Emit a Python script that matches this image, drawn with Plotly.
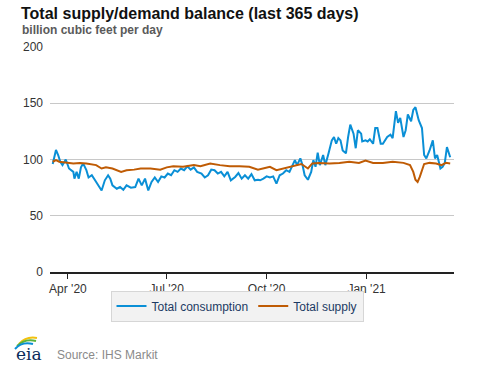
import plotly.graph_objects as go

# ---- data ----
cons_dates = [
    "2020-03-18", "2020-03-21", "2020-03-23", "2020-03-25", "2020-03-27", "2020-03-30",
    "2020-04-02", "2020-04-06", "2020-04-07", "2020-04-09", "2020-04-11", "2020-04-13",
    "2020-04-15", "2020-04-18", "2020-04-20", "2020-04-23", "2020-04-26", "2020-04-29",
    "2020-05-02", "2020-05-05", "2020-05-08", "2020-05-10", "2020-05-12", "2020-05-16",
    "2020-05-19", "2020-05-22", "2020-05-25", "2020-05-29", "2020-06-02", "2020-06-05",
    "2020-06-08", "2020-06-11", "2020-06-14", "2020-06-17", "2020-06-20", "2020-06-23",
    "2020-06-26", "2020-06-29", "2020-07-02", "2020-07-05", "2020-07-08", "2020-07-11",
    "2020-07-14", "2020-07-17", "2020-07-20", "2020-07-23", "2020-07-26", "2020-07-29",
    "2020-08-02", "2020-08-05", "2020-08-08", "2020-08-11", "2020-08-14", "2020-08-17",
    "2020-08-20", "2020-08-23", "2020-08-26", "2020-08-29", "2020-09-02", "2020-09-05",
    "2020-09-08", "2020-09-11", "2020-09-14", "2020-09-17", "2020-09-20", "2020-09-23",
    "2020-09-25", "2020-09-28", "2020-10-01", "2020-10-04", "2020-10-07", "2020-10-10",
    "2020-10-13", "2020-10-16", "2020-10-19", "2020-10-22", "2020-10-25", "2020-10-27",
    "2020-10-29", "2020-11-01", "2020-11-03", "2020-11-05", "2020-11-08", "2020-11-11",
    "2020-11-13", "2020-11-15", "2020-11-17", "2020-11-19", "2020-11-22", "2020-11-24",
    "2020-11-27", "2020-11-30", "2020-12-02", "2020-12-04", "2020-12-06", "2020-12-08",
    "2020-12-10", "2020-12-13", "2020-12-15", "2020-12-17", "2020-12-20", "2020-12-22",
    "2020-12-24", "2020-12-27", "2020-12-28", "2020-12-31", "2021-01-02", "2021-01-04",
    "2021-01-07", "2021-01-09", "2021-01-11", "2021-01-14", "2021-01-16", "2021-01-18",
    "2021-01-20", "2021-01-23", "2021-01-25", "2021-01-28", "2021-01-30", "2021-02-01",
    "2021-02-04", "2021-02-06", "2021-02-08", "2021-02-11", "2021-02-13", "2021-02-15",
    "2021-02-18", "2021-02-21", "2021-02-23", "2021-02-25", "2021-02-28", "2021-03-03",
    "2021-03-05", "2021-03-07", "2021-03-10", "2021-03-12", "2021-03-14", "2021-03-16",
    "2021-03-18", "2021-03-19",
]
cons_values = [
    96, 108.5, 104, 98, 95, 100,
    92, 89, 83, 89, 83, 93,
    96.5, 90.5, 84, 86, 81.5, 77,
    72.5, 81.5, 86, 83, 77, 74,
    75.5, 73, 77, 75, 75.5, 83,
    77, 83, 72.5, 80, 84, 80,
    85, 84, 87.5, 86, 90.5, 89,
    92, 90.5, 94, 91, 93, 89,
    87.5, 84, 86, 91, 90.5, 87.5,
    89, 85, 89, 81.5, 84.5, 88,
    83, 86, 83, 87, 81.5, 82,
    81.5, 83, 85, 84, 85, 78.5,
    86, 87.5, 90.5, 89, 95, 99.5,
    95, 101, 95, 86, 82, 89,
    99.5, 93.5, 106, 95, 104, 95,
    105.5, 117, 120, 114, 119, 117,
    108, 105.5, 120, 131, 123, 110,
    126, 123, 116, 117, 116, 118,
    114, 128, 128, 114, 114, 117,
    120, 122, 119, 143, 132.5, 137,
    120, 126, 140, 134, 144, 146.5,
    135, 128, 104, 101, 108, 117,
    101, 104, 92, 93.5, 97, 111,
    104, 102,
]

supply_dates = [
    "2020-03-18", "2020-03-21", "2020-03-24", "2020-03-30", "2020-04-06", "2020-04-12",
    "2020-04-18", "2020-04-27", "2020-05-02", "2020-05-06", "2020-05-12", "2020-05-20",
    "2020-05-25", "2020-06-01", "2020-06-07", "2020-06-16", "2020-06-25", "2020-07-01",
    "2020-07-07", "2020-07-16", "2020-07-26", "2020-08-01", "2020-08-10", "2020-08-19",
    "2020-08-28", "2020-09-06", "2020-09-15", "2020-09-23", "2020-09-28", "2020-10-04",
    "2020-10-10", "2020-10-16", "2020-10-22", "2020-10-28", "2020-11-02", "2020-11-08",
    "2020-11-12", "2020-11-18", "2020-11-28", "2020-12-07", "2020-12-16", "2020-12-25",
    "2020-12-31", "2021-01-07", "2021-01-16", "2021-01-25", "2021-02-04", "2021-02-10",
    "2021-02-13", "2021-02-15", "2021-02-17", "2021-02-19", "2021-02-21", "2021-02-23",
    "2021-02-28", "2021-03-06", "2021-03-11", "2021-03-15", "2021-03-19",
]
supply_values = [
    98, 99.5, 98, 97, 96.5, 97,
    96.5, 95, 92, 93, 92, 89,
    90.5, 91, 92, 92, 91, 93,
    94, 93.5, 95, 94, 96.5, 95,
    94, 94, 93.5, 91, 92, 93.5,
    90.5, 92, 93.5, 95, 96, 92,
    96.5, 97, 96.5, 97, 98, 97,
    99, 97, 97, 98, 97, 95,
    89, 82, 80, 84.5, 91, 96,
    97, 96.5, 95, 97, 96.5,
]

series_names = ["Total consumption", "Total supply"]
y_ticks = [0, 50, 100, 150, 200]

FONT = "Arial, Liberation Sans, sans-serif"

fig = go.Figure()
fig.add_trace(go.Scatter(x=cons_dates, y=cons_values, mode="lines",
                         name=series_names[0],
                         line=dict(color="#0a8fd6", width=2)))
fig.add_trace(go.Scatter(x=supply_dates, y=supply_values, mode="lines",
                         name=series_names[1],
                         line=dict(color="#bf5b04", width=2)))

# plot area: x 50..454, y 47..272 px
L, R, T, B = 50, 23, 47, 95
W, H = 477, 367
pw, ph = W - L - R, H - T - B

def px(x):
    return (x - L) / pw

def py(y):
    return (H - B - y) / ph

fig.update_layout(
    width=W, height=H,
    margin=dict(l=L, r=R, t=T, b=B, autoexpand=False),
    paper_bgcolor="white", plot_bgcolor="white",
    font=dict(family=FONT, size=12, color="#333333"),
    showlegend=True,
    legend=dict(orientation="h", x=px(237), y=py(306), xanchor="center", yanchor="middle",
                bgcolor="#f2f2f2", bordercolor="#d6d6d6", borderwidth=1,
                font=dict(family=FONT, size=12, color="#1c3a63"),
                itemwidth=30),
    xaxis=dict(type="date", range=["2020-03-15 12:00", "2021-03-22 12:00"],
               tick0="2020-04-01", dtick="M3", tickformat="%b '%y",
               showgrid=False, showline=True, linecolor="#222222", linewidth=1.5,
               ticks="outside", ticklen=5, tickcolor="#222222", tickwidth=1,
               tickfont=dict(family=FONT, size=12, color="#333333"),
               zeroline=False),
    yaxis=dict(range=[0, 200], tickvals=y_ticks, showgrid=True,
               gridcolor="#c8c8c8", gridwidth=1.2, zeroline=False, showline=False,
               tickfont=dict(family=FONT, size=12, color="#333333"),
               ticklabelstandoff=6),
)

# title & subtitle
fig.add_annotation(text="<b>Total supply/demand balance (last 365 days)</b>",
                   xref="paper", yref="paper", x=px(19), y=py(14),
                   xanchor="left", yanchor="middle", showarrow=False,
                   font=dict(family=FONT, size=16, color="#111111"))
fig.add_annotation(text="<b>billion cubic feet per day</b>",
                   xref="paper", yref="paper", x=px(20), y=py(30),
                   xanchor="left", yanchor="middle", showarrow=False,
                   font=dict(family=FONT, size=12, color="#5a5a5a"))

# footer: eia logo + source
fig.add_annotation(text="eia", xref="paper", yref="paper", x=px(29), y=py(354),
                   xanchor="center", yanchor="middle", showarrow=False,
                   font=dict(family="DejaVu Serif, Liberation Serif, serif", size=17,
                             color="#0b2c5a"))
for color, (x0, y0, cx, cy, x1, y1) in [
    ("#f2c20f", (19, 344, 26, 336, 37, 338)),
    ("#5bb33c", (17, 346, 25, 338, 36, 341)),
    ("#0a8fd6", (15, 349, 22, 341, 33, 344)),
]:
    fig.add_shape(type="path", xref="paper", yref="paper",
                  path=f"M {px(x0)},{py(y0)} Q {px(cx)},{py(cy)} {px(x1)},{py(y1)}",
                  line=dict(color=color, width=2))
fig.add_annotation(text="Source: IHS Markit", xref="paper", yref="paper",
                   x=px(55), y=py(355), xanchor="left", yanchor="middle",
                   showarrow=False, font=dict(family=FONT, size=12, color="#8a8a8a"))

fig.write_html("out.html", config={"displayModeBar": False},
               post_script="document.body.style.margin='0';document.body.style.padding='0';")
